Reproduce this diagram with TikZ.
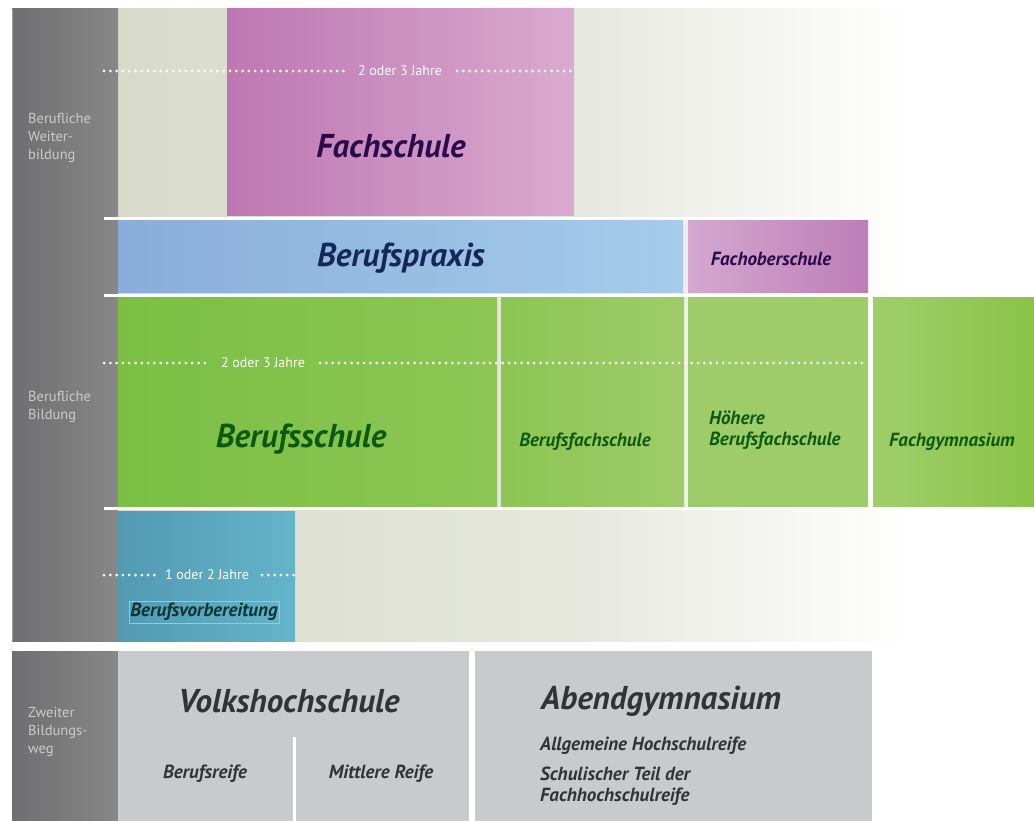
\documentclass[tikz,border=0pt]{standalone}
\usepackage{fontspec}
\setmainfont{PT Sans}
\definecolor{graycolL}{HTML}{6F6F71}
\definecolor{graycolR}{HTML}{878787}
\definecolor{beigeL}{HTML}{D8DBCA}
\definecolor{beigeM}{HTML}{E6E8DE}
\definecolor{fsL}{HTML}{BE77B2}
\definecolor{fsR}{HTML}{DAAAD0}
\definecolor{bpL}{HTML}{89ADDA}
\definecolor{bpR}{HTML}{A6CCEC}
\definecolor{fosL}{HTML}{D4A8D0}
\definecolor{fosR}{HTML}{BE7DB6}
\definecolor{gL}{HTML}{7ABF44}
\definecolor{gR}{HTML}{8DC654}
\definecolor{g2L}{HTML}{8DC654}
\definecolor{g2R}{HTML}{9ECC69}
\definecolor{g3L}{HTML}{9ECC69}
\definecolor{g3R}{HTML}{A0CE6A}
\definecolor{g4L}{HTML}{A0CE6A}
\definecolor{g4R}{HTML}{8AC349}
\definecolor{bvL}{HTML}{519AB2}
\definecolor{bvR}{HTML}{64B4CA}
\definecolor{lightbox}{HTML}{C9CACC}
\definecolor{purpletxt}{HTML}{2A0A4C}
\definecolor{navytxt}{HTML}{13275A}
\definecolor{greentxt}{HTML}{0C5A10}
\definecolor{tealtxt}{HTML}{0B3534}
\definecolor{darktxt}{HTML}{333335}
\definecolor{sidetxt}{HTML}{CBCBCB}
\tikzset{
  sidelabel/.style={anchor=north west, inner sep=0pt, align=left, text=sidetxt, font=\fontsize{14.5}{18}\selectfont},
  bigit/.style={inner sep=0pt, font=\fontsize{33}{36}\selectfont\bfseries\itshape},
  smallit/.style={inner sep=0pt, font=\fontsize{19}{23}\selectfont\bfseries\itshape},
  yearlabel/.style={inner sep=0pt, text=white, font=\fontsize{14}{16}\selectfont},
  dots/.style={white, line width=3pt, line cap=round, dash pattern=on 0pt off 6.3pt},
  sep/.style={white, line width=3pt}
}
\begin{document}
\begin{tikzpicture}[x=1pt,y=-1pt]
\useasboundingbox (0,0) rectangle (1034,821);
\fill[white] (0,0) rectangle (1034,821);
% background beige fade
\shade[left color=beigeL, right color=beigeM] (118,9) rectangle (574.5,641);
\shade[left color=beigeM, right color=white] (574,9) rectangle (910,641);
% left gray columns
\shade[left color=graycolL, right color=graycolR] (12,9) rectangle (118,641);
\shade[left color=graycolL, right color=graycolR] (12,651) rectangle (118,821);
\draw[color=graycolR!80!white, line width=1.2pt] (12.6,9) -- (12.6,641);
% top row
\shade[left color=fsL, right color=fsR] (227,9) rectangle (574,216);
% second row
\shade[left color=bpL, right color=bpR] (118,221) rectangle (683,293);
\shade[left color=fosL, right color=fosR] (688,221) rectangle (868,293);
% green row
\shade[left color=gL, right color=gR] (118,298) rectangle (497,506);
\shade[left color=g2L, right color=g2R] (501,298) rectangle (684,506);
\shade[left color=g3L, middle color=g3R!90!white, right color=g3L] (688,298) rectangle (868,506);
\shade[left color=g4L, right color=g4R] (873,298) rectangle (1034,506);
% Berufsvorbereitung
\shade[left color=bvL, right color=bvR] (118,511) rectangle (295,641);
% separators
\draw[sep] (104,218.5) -- (868,218.5);
\draw[sep] (104,295.5) -- (870,295.5);
\draw[sep] (104,508.5) -- (905,508.5);
% bottom section
\fill[lightbox] (118,651) rectangle (469,821);
\fill[lightbox] (475,651) rectangle (872,821);
\draw[white, line width=3pt] (294.5,737) -- (294.5,821);
% dotted lines
\node[yearlabel] (y1) at (400,71) {2 oder 3 Jahre};
\coordinate (y1a) at (104,71);
\coordinate (y1b) at (574,71);
\draw[dots] (y1a) -- (345,71);
\draw[dots] (457,71) -- (y1b);
\node[yearlabel] (y2) at (263,363) {2 oder 3 Jahre};
\coordinate (y2a) at (104,363);
\coordinate (y2b) at (868,363);
\draw[dots] (y2a) -- (210,363);
\draw[dots] (320,363) -- (y2b);
\node[yearlabel] (y3) at (207,575) {1 oder 2 Jahre};
\coordinate (y3a) at (104,575);
\coordinate (y3b) at (295,575);
\draw[dots] (y3a) -- (155,575);
\draw[dots] (262,575) -- (y3b);
% side labels
\node[sidelabel] (l1) at (28,113) {Berufliche\\Weiter-\\bildung};
\node[sidelabel] (l2) at (28,391) {Berufliche\\Bildung};
\node[sidelabel] (l3) at (28,707) {Zweiter\\Bildungs-\\weg};
% box labels
\node[bigit, text=purpletxt] (fachschule) at (391,146) {Fachschule};
\node[bigit, text=navytxt] (praxis) at (401,258) {Berufspraxis};
\node[smallit, text=purpletxt] (fos) at (771,259) {Fachoberschule};
\node[bigit, text=greentxt] (bs) at (301,439) {Berufsschule};
\node[smallit, text=greentxt] (bfs) at (585,442) {Berufsfachschule};
\node[smallit, text=greentxt, anchor=west] (hbfs1) at (709,418) {Höhere};
\node[smallit, text=greentxt, anchor=west] (hbfs2) at (709,441) {Berufsfachschule};
\node[smallit, text=greentxt] (fg) at (952,442) {Fachgymnasium};
\node[smallit, text=tealtxt, draw=bvR!70!white, line width=0.6pt, inner xsep=1.5pt, inner ysep=2pt] (bv) at (204,612) {Berufsvorbereitung};
\node[bigit, text=darktxt] (vhs) at (289,701) {Volkshochschule};
\node[smallit, text=darktxt] (br) at (205,774) {Berufsreife};
\node[smallit, text=darktxt] (mr) at (381,774) {Mittlere Reife};
\node[bigit, text=darktxt, anchor=west] (ag) at (541,701) {Abendgymnasium};
\node[smallit, text=darktxt, anchor=west] (agt1) at (540,746) {Allgemeine Hochschulreife};
\node[smallit, text=darktxt, anchor=west] (agt2) at (540,774) {Schulischer Teil der};
\node[smallit, text=darktxt, anchor=west] (agt3) at (540,797) {Fachhochschulreife};
\end{tikzpicture}
\end{document}
